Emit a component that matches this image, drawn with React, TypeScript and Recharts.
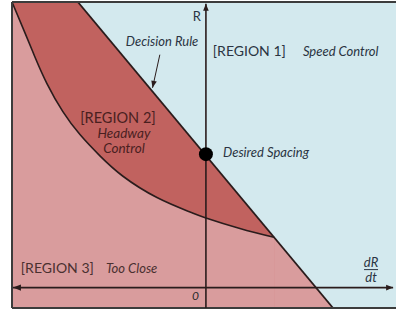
import {
  ComposedChart,
  Area,
  Line,
  XAxis,
  YAxis,
  CartesianGrid,
  ReferenceLine,
  ReferenceDot,
} from 'recharts'

// Plot domain (arbitrary units, 0 = origin of dR/dt and R)
const xDomain = [-10.1, 9.9]
const yDomain = [-1.2, 16.8]

// Decision rule: straight line through the desired spacing point
const decisionRule = [
  { x: -10.1, y: 16.8 },
  { x: -6.67, y: 16.8 },
  { x: 6.62, y: -1.2 },
]
const decisionLine = [
  { x: -6.67, y: 16.8 },
  { x: 6.62, y: -1.2 },
]

// Lower boundary of region 2 (headway control)
const headwayCurve = [
  { x: -10.1, y: 16.8 },
  { x: -9.43, y: 15.0 },
  { x: -8.9, y: 13.55 },
  { x: -8.28, y: 12.0 },
  { x: -7.45, y: 10.35 },
  { x: -6.56, y: 9.0 },
  { x: -5.52, y: 7.75 },
  { x: -4.32, y: 6.55 },
  { x: -2.55, y: 5.3 },
  { x: -0.83, y: 4.45 },
  { x: 0, y: 4.1 },
  { x: 1.77, y: 3.48 },
  { x: 3.55, y: 2.96 },
]
// Region 3 continues under the decision rule past the curve's end
const tooCloseTail = [
  { x: 3.55, y: 2.96 },
  { x: 6.62, y: -1.2 },
]

const desiredSpacing = { x: 0, y: 7.85 }
const decisionArrow = [
  { x: -2.4, y: 13.7 },
  { x: -2.78, y: 11.75 },
]

const notes = [
  { x: -0.26, y: 15.7, text: 'R', italic: false, anchor: 'end', size: 13, color: '#2a3442' },
  { x: -4.17, y: 14.24, text: 'Decision Rule', italic: true, anchor: 'start', size: 13, color: '#2a3442' },
  { x: 0.36, y: 13.65, text: '[REGION 1]', italic: false, anchor: 'start', size: 14, color: '#2a3442' },
  { x: 5.05, y: 13.65, text: 'Speed Control', italic: true, anchor: 'start', size: 13, color: '#2a3442' },
  { x: -4.58, y: 9.7, text: '[REGION 2]', italic: false, anchor: 'middle', size: 14.5, color: '#4a1f1f' },
  { x: -4.27, y: 8.82, text: 'Headway', italic: true, anchor: 'middle', size: 13.5, color: '#4a1f1f' },
  { x: -4.27, y: 7.94, text: 'Control', italic: true, anchor: 'middle', size: 13.5, color: '#4a1f1f' },
  { x: 0.89, y: 7.7, text: 'Desired Spacing', italic: true, anchor: 'start', size: 13, color: '#2a3442' },
  { x: -9.64, y: 0.88, text: '[REGION 3]', italic: false, anchor: 'start', size: 14, color: '#4a3030' },
  { x: -5.21, y: 0.88, text: 'Too Close', italic: true, anchor: 'start', size: 13, color: '#4a3030' },
  { x: -0.36, y: -0.7, text: '0', italic: true, anchor: 'end', size: 12, color: '#2a2a2a' },
]
const fractionLabel = { x: 8.6, y: 1.0, top: 'dR', bottom: 'dt' }

const FONT = 'Lato, "Open Sans", sans-serif'
const INK = '#2a1c1c'

function arrowHead(x: number, y: number, dx: number, dy: number, size = 8) {
  const len = Math.hypot(dx, dy) || 1
  const ux = dx / len
  const uy = dy / len
  const bx = x - ux * size
  const by = y - uy * size
  const w = size * 0.4
  return `${x},${y} ${bx - uy * w},${by + ux * w} ${bx + uy * w},${by - ux * w}`
}

function ArrowLine(props: any, start: boolean, end: boolean, width = 1.6) {
  const { x1, y1, x2, y2 } = props
  return (
    <g>
      <line x1={x1} y1={y1} x2={x2} y2={y2} stroke={INK} strokeWidth={width} />
      {start && <polygon points={arrowHead(x1, y1, x1 - x2, y1 - y2)} fill={INK} />}
      {end && <polygon points={arrowHead(x2, y2, x2 - x1, y2 - y1, 7)} fill={INK} />}
    </g>
  )
}

export default function App() {
  return (
    <div style={{ position: 'absolute', left: 0, top: 0 }}>
      <ComposedChart
        width={396}
        height={315}
        margin={{ top: 2, right: 0, left: 12, bottom: 7 }}
      >
        <CartesianGrid horizontal={false} vertical={false} fill="#d3e9ee" />
        <XAxis type="number" dataKey="x" domain={xDomain} hide allowDataOverflow />
        <YAxis type="number" dataKey="y" domain={yDomain} hide allowDataOverflow />

        <Area
          data={decisionRule}
          dataKey="y"
          type="linear"
          baseValue="dataMin"
          fill="#c1625f"
          fillOpacity={1}
          stroke="none"
          isAnimationActive={false}
        />
        <Area
          data={headwayCurve}
          dataKey="y"
          type="natural"
          baseValue="dataMin"
          fill="#d99c9d"
          fillOpacity={1}
          stroke={INK}
          strokeWidth={1.6}
          isAnimationActive={false}
        />
        <Area
          data={tooCloseTail}
          dataKey="y"
          type="linear"
          baseValue="dataMin"
          fill="#d99c9d"
          fillOpacity={1}
          stroke="none"
          isAnimationActive={false}
        />
        <Line
          data={decisionLine}
          dataKey="y"
          type="linear"
          stroke={INK}
          strokeWidth={1.8}
          dot={false}
          isAnimationActive={false}
        />

        {/* frame */}
        <ReferenceLine y={yDomain[1]} stroke="#3c3c3c" strokeWidth={2} />
        <ReferenceLine y={yDomain[0]} stroke="#3c3c3c" strokeWidth={2} />
        <ReferenceLine x={xDomain[0]} stroke="#3c3c3c" strokeWidth={2} />

        {/* axes */}
        <ReferenceLine
          segment={[{ x: -10.05, y: 0 }, { x: 9.75, y: 0 }]}
          shape={(p: any) => ArrowLine(p, true, true)}
        />
        <ReferenceLine
          segment={[{ x: 0, y: -1.2 }, { x: 0, y: 16.7 }]}
          shape={(p: any) => ArrowLine(p, false, true)}
        />
        <ReferenceLine
          segment={decisionArrow}
          shape={(p: any) => ArrowLine(p, false, true, 1)}
        />

        <ReferenceDot
          x={desiredSpacing.x}
          y={desiredSpacing.y}
          r={7}
          fill="#000"
          stroke="none"
        />

        {notes.map((n) => (
          <ReferenceDot
            key={n.text}
            x={n.x}
            y={n.y}
            r={1}
            shape={(p: any) => (
              <text
                x={p.cx}
                y={p.cy}
                textAnchor={n.anchor}
                fontFamily={FONT}
                fontSize={n.size}
                fontStyle={n.italic ? 'italic' : 'normal'}
                fill={n.color}
              >
                {n.text}
              </text>
            )}
          />
        ))}
        <ReferenceDot
          x={fractionLabel.x}
          y={fractionLabel.y}
          r={1}
          shape={(p: any) => (
            <g fontFamily={FONT} fontSize={13} fontStyle="italic" fill="#2a3442" textAnchor="middle">
              <text x={p.cx} y={p.cy - 4}>{fractionLabel.top}</text>
              <line x1={p.cx - 7} y1={p.cy - 1} x2={p.cx + 7} y2={p.cy - 1} stroke="#2a3442" strokeWidth={1} />
              <text x={p.cx} y={p.cy + 11}>{fractionLabel.bottom}</text>
            </g>
          )}
        />
      </ComposedChart>
    </div>
  )
}
